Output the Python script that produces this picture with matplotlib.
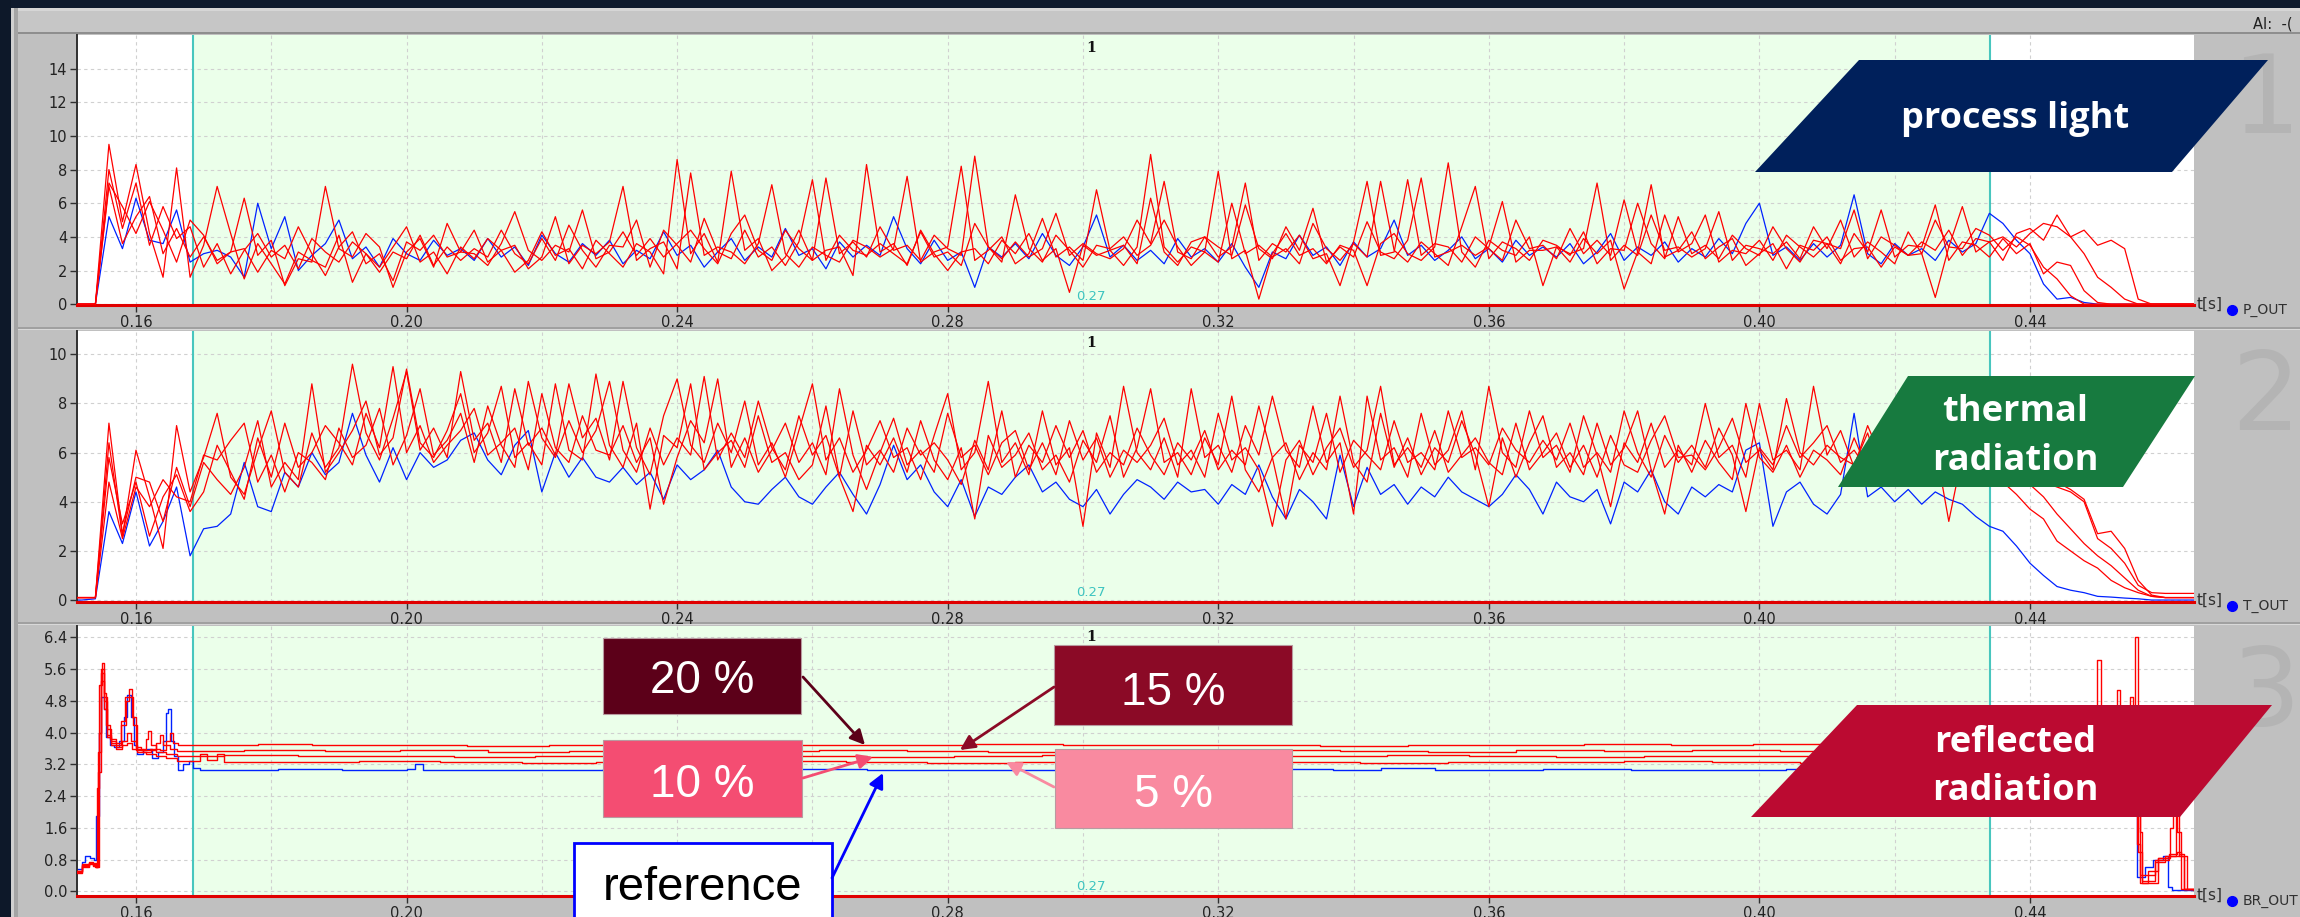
import numpy as np
import matplotlib.pyplot as plt
from matplotlib.patches import Polygon, Rectangle, FancyArrowPatch
from matplotlib.transforms import Affine2D

W, H = 2300, 917

# P_OUT and T_OUT traces, read every 2 ms starting at 0.150 s
T0 = 0.150
DT = 0.002

# ---- P_OUT (process light) ----
p_ref = [0, 0, 0, 5.2, 3.3, 6.3, 3.8, 3.6, 5.6, 2.5,
         3.0, 3.2, 2.8, 1.6, 6.0, 3.3, 5.2, 2.0, 2.9, 3.6,
         5.0, 2.7, 3.4, 2.2, 3.9, 3.0, 2.6, 3.8, 2.9, 3.3,
         2.6, 3.9, 2.8, 3.4, 2.3, 4.1, 3.0, 2.5, 3.6, 2.9,
         3.8, 2.4, 3.2, 2.7, 4.3, 2.9, 3.5, 2.2, 3.1, 3.9,
         2.6, 3.4, 2.8, 4.5, 2.9, 3.3, 2.1, 3.7, 2.8, 3.5,
         2.9, 5.2, 3.3, 2.4, 3.8, 2.6, 3.1, 1.0, 3.4, 2.8,
         3.6, 2.7, 4.2, 2.9, 2.3, 3.4, 5.3, 2.8, 3.5, 2.6,
         3.2, 2.4, 3.9, 2.8, 3.3, 2.5, 3.6, 2.2, 1.0, 3.1,
         2.7, 4.1, 2.9, 3.4, 2.3, 3.7, 2.8, 3.3, 5.0, 2.9,
         3.5, 2.6, 3.2, 4.0, 2.7, 3.3, 2.5, 3.8, 2.9, 3.4,
         2.8, 3.6, 2.4, 3.1, 4.2, 2.6, 3.4, 2.9, 3.7, 2.5,
         3.3, 2.8, 3.9, 3.0, 4.8, 6.0, 2.9, 3.4, 2.6, 3.6,
         2.8, 3.5, 6.5, 3.0, 2.4, 3.6, 2.9, 3.3, 2.6, 3.8,
         3.1, 3.6, 5.4, 4.8, 3.8, 3.0, 1.2, 0.3, 0.4, 0.1,
         0, 0, 0, 0, 0, 0, 0, 0, 0]
p_a = [0, 0, 0, 9.5, 4.9, 8.3, 4.2, 1.6, 8.1, 1.6,
       3.5, 7.0, 4.2, 1.5, 3.6, 2.4, 1.2, 3.1, 2.6, 2.2,
       4.1, 1.3, 3.0, 2.2, 3.4, 4.6, 2.5, 3.1, 1.8, 3.4,
       2.7, 3.9, 3.2, 1.9, 2.6, 4.3, 2.9, 3.3, 2.1, 3.8,
       3.0, 2.2, 3.6, 3.1, 1.8, 8.6, 3.0, 4.2, 2.5, 7.9,
       3.2, 3.9, 2.0, 2.8, 4.4, 2.6, 3.2, 3.4, 1.7, 8.3,
       3.1, 3.6, 2.3, 4.4, 3.0, 2.0, 3.1, 3.3, 2.4, 3.8,
       3.0, 4.2, 2.6, 3.3, 0.7, 3.5, 2.9, 3.2, 2.3, 3.4,
       8.9, 3.4, 2.5, 3.4, 3.1, 7.9, 2.7, 3.2, 0.3, 3.0,
       4.2, 2.9, 3.3, 2.4, 3.5, 3.2, 1.1, 3.6, 4.2, 3.0,
       2.6, 3.4, 8.4, 3.1, 2.2, 3.8, 3.2, 2.9, 4.0, 1.1,
       3.4, 2.5, 3.9, 3.0, 3.8, 0.9, 3.1, 7.1, 2.8, 3.2,
       4.3, 2.7, 3.4, 3.9, 2.3, 3.0, 3.6, 2.1, 3.5, 3.2,
       4.0, 2.6, 3.3, 3.4, 2.2, 3.4, 2.9, 3.0, 0.4, 3.4,
       5.8, 3.1, 3.7, 2.6, 4.2, 4.5, 3.8, 5.3, 4.0, 4.4,
       3.5, 3.8, 3.3, 0.3, 0, 0, 0, 0, 0]
p_b = [0, 0, 0, 7.0, 3.6, 5.2, 6.4, 3.0, 4.5, 2.8,
       4.0, 2.6, 3.1, 3.3, 1.9, 3.2, 2.7, 4.6, 3.0, 1.7,
       3.4, 4.3, 2.4, 3.0, 1.4, 3.7, 3.2, 4.1, 2.8, 3.1,
       4.4, 2.5, 3.2, 3.5, 2.1, 2.8, 5.2, 2.4, 3.5, 3.0,
       3.7, 7.0, 2.6, 3.3, 3.7, 2.1, 7.8, 2.9, 3.4, 3.1,
       2.4, 3.6, 7.1, 3.0, 2.2, 3.4, 2.9, 2.5, 3.8, 3.4,
       2.8, 3.3, 7.6, 2.5, 3.1, 3.4, 8.2, 2.6, 3.2, 4.0,
       2.4, 3.0, 5.1, 2.8, 3.4, 2.6, 6.8, 3.2, 3.5, 2.4,
       6.3, 3.1, 2.3, 3.7, 4.0, 2.8, 3.4, 7.2, 2.6, 3.6,
       3.1, 4.1, 2.7, 3.0, 1.1, 3.7, 7.3, 2.9, 3.1, 7.4,
       2.9, 3.6, 3.4, 2.5, 4.0, 3.3, 2.6, 5.0, 3.3, 3.5,
       2.7, 4.5, 3.0, 3.8, 2.9, 6.2, 3.1, 2.4, 5.3, 3.1,
       3.6, 5.3, 2.5, 3.2, 3.0, 3.8, 2.6, 4.1, 3.4, 2.8,
       3.6, 3.3, 5.6, 2.7, 4.0, 3.5, 2.9, 3.7, 3.2, 4.4,
       2.9, 3.9, 3.7, 4.0, 3.4, 4.2, 4.8, 4.6, 4.0, 3.0,
       1.6, 1.0, 0.3, 0, 0, 0, 0, 0, 0]
p_c = [0, 0, 0, 8.0, 4.5, 7.2, 3.5, 5.8, 3.9, 4.6,
       2.2, 3.6, 1.8, 3.2, 4.2, 2.8, 3.5, 2.1, 3.9, 3.1,
       2.5, 3.7, 3.0, 1.9, 3.1, 2.7, 4.1, 2.3, 3.4, 2.6,
       3.3, 2.8, 4.4, 3.0, 2.4, 3.9, 2.6, 4.7, 3.2, 2.2,
       3.5, 3.4, 5.0, 2.2, 4.4, 3.5, 2.5, 5.1, 3.1, 2.7,
       4.4, 2.8, 3.4, 2.3, 3.7, 7.4, 2.6, 4.1, 3.2, 2.9,
       3.6, 3.0, 2.4, 4.3, 2.8, 3.1, 2.3, 4.8, 3.4, 2.5,
       6.5, 3.3, 2.5, 4.1, 3.2, 2.2, 3.5, 3.3, 4.0, 2.9,
       3.5, 5.0, 3.4, 2.3, 3.1, 2.5, 6.0, 3.0, 3.5, 2.8,
       3.3, 2.4, 4.8, 3.3, 2.6, 3.6, 2.8, 7.3, 3.2, 2.5,
       3.7, 3.0, 2.3, 4.6, 7.0, 2.7, 3.7, 3.3, 2.6, 3.8,
       3.5, 2.9, 4.3, 2.4, 3.3, 3.2, 6.0, 3.6, 2.7, 5.2,
       3.0, 3.5, 2.7, 4.1, 3.3, 2.9, 4.6, 3.3, 2.5, 3.8,
       3.6, 2.4, 4.2, 3.1, 5.6, 2.8, 3.5, 3.4, 5.9, 2.6,
       3.7, 3.5, 2.8, 3.9, 3.0, 3.6, 1.8, 2.5, 2.3, 0.8,
       0.1, 0, 0, 0, 0, 0, 0, 0, 0]
p_d = [0, 0, 0, 7.2, 5.8, 4.2, 6.1, 4.4, 2.5, 5.0,
       4.1, 2.4, 3.1, 6.3, 2.9, 3.8, 1.1, 2.7, 2.5, 7.0,
       3.3, 2.8, 4.2, 3.4, 1.0, 3.1, 3.9, 2.2, 4.8, 3.1,
       3.0, 2.3, 3.6, 5.5, 3.2, 2.6, 3.5, 3.1, 5.6, 2.7,
       3.1, 4.3, 2.9, 3.9, 2.8, 3.6, 4.4, 3.3, 2.4, 4.2,
       5.3, 3.2, 2.6, 4.4, 3.3, 2.6, 7.5, 3.0, 3.7, 2.8,
       4.6, 3.2, 3.5, 2.6, 4.1, 3.3, 2.9, 8.8, 3.4, 2.7,
       3.7, 2.8, 3.3, 5.4, 2.9, 3.6, 3.0, 2.7, 3.3, 5.0,
       3.6, 7.3, 3.1, 2.7, 4.0, 3.4, 2.9, 5.9, 3.3, 2.7,
       4.6, 3.2, 5.7, 2.5, 3.4, 2.8, 4.9, 3.1, 2.7, 3.8,
       7.5, 2.8, 3.1, 3.5, 2.9, 3.4, 6.1, 2.5, 3.2, 3.2,
       3.4, 3.0, 3.3, 7.2, 2.6, 3.5, 2.9, 5.3, 3.2, 3.4,
       2.8, 3.3, 5.5, 2.6, 3.5, 3.3, 3.0, 3.7, 2.7, 4.6,
       3.3, 5.0, 2.8, 3.7, 3.1, 2.4, 4.3, 3.0, 5.0, 3.4,
       3.3, 4.5, 4.1, 3.2, 4.0, 3.5, 2.2, 1.5, 0.5, 0,
       0, 0, 0, 0, 0, 0, 0, 0, 0]

# ---- T_OUT (thermal radiation) ----
th_ref = [0, 0, 0.05, 3.6, 2.3, 4.4, 2.2, 3.2, 4.6, 1.8,
          2.9, 3.0, 3.5, 5.6, 3.8, 3.6, 5.2, 4.6, 6.0, 5.1,
          5.6, 7.6, 5.9, 4.8, 6.2, 4.9, 6.0, 5.4, 5.7, 6.5,
          6.8, 5.7, 5.1, 6.3, 6.9, 4.4, 6.0, 5.0, 5.8, 5.0,
          4.8, 5.4, 4.7, 5.2, 4.1, 5.5, 4.9, 5.3, 6.1, 4.6,
          4.0, 3.9, 4.5, 5.0, 4.2, 3.9, 4.6, 5.2, 4.3, 3.5,
          4.7, 6.3, 4.9, 5.5, 4.4, 3.8, 4.9, 3.4, 4.6, 4.3,
          5.0, 5.5, 4.4, 4.8, 4.1, 3.8, 4.5, 3.5, 4.3, 4.9,
          4.6, 4.1, 4.8, 4.4, 4.5, 3.9, 4.7, 4.3, 5.5, 4.2,
          3.3, 4.5, 4.0, 3.3, 5.9, 3.8, 5.4, 4.3, 4.7, 3.9,
          4.6, 4.2, 5.0, 4.4, 4.1, 3.8, 4.3, 5.1, 4.5, 3.5,
          4.8, 4.2, 4.0, 4.5, 3.1, 4.8, 4.4, 5.3, 4.0, 3.5,
          4.6, 4.2, 4.7, 4.4, 6.1, 6.4, 3.0, 4.4, 4.8, 3.9,
          3.5, 4.3, 7.6, 4.2, 4.6, 4.0, 4.5, 3.9, 4.4, 4.1,
          3.9, 3.4, 3.0, 2.8, 2.2, 1.5, 1.0, 0.55, 0.4, 0.3,
          0.15, 0.12, 0.08, 0.05, 0, 0, 0, 0, 0]
th_a = [0.1, 0.1, 0.1, 6.4, 2.6, 6.1, 4.2, 2.1, 7.1, 4.4,
        5.8, 7.6, 5.0, 4.3, 6.1, 7.7, 5.2, 4.6, 6.8, 5.4,
        6.2, 9.6, 6.8, 5.7, 7.4, 9.3, 6.1, 7.0, 5.8, 9.3,
        6.5, 7.2, 5.6, 8.6, 6.3, 7.0, 5.9, 8.8, 6.6, 7.4,
        5.7, 8.9, 6.2, 5.1, 7.5, 9.0, 6.3, 5.6, 7.2, 6.0,
        8.1, 5.5, 6.4, 5.0, 6.9, 8.8, 5.7, 6.6, 5.2, 6.1,
        7.3, 5.8, 6.2, 4.9, 6.7, 8.4, 5.3, 6.0, 8.9, 5.6,
        6.4, 5.1, 7.7, 5.5, 6.2, 3.0, 6.8, 5.4, 8.7, 6.0,
        5.3, 6.6, 5.0, 8.6, 5.8, 6.3, 5.2, 7.1, 5.9, 8.3,
        6.1, 5.4, 7.9, 5.6, 6.4, 3.5, 8.3, 5.7, 6.2, 5.0,
        7.6, 5.5, 6.1, 7.7, 5.3, 8.7, 6.0, 5.4, 7.7, 5.8,
        6.3, 5.2, 7.5, 5.9, 3.8, 6.4, 5.6, 7.2, 5.4, 6.1,
        5.5, 8.0, 5.8, 6.3, 5.0, 8.0, 5.7, 6.1, 5.3, 8.7,
        5.9, 6.9, 5.4, 7.1, 5.8, 6.3, 5.1, 6.7, 5.5, 5.9,
        5.2, 6.1, 5.6, 5.0, 5.7, 5.2, 4.8, 4.6, 4.4, 4.0,
        2.5, 2.1, 1.5, 0.6, 0.3, 0.27, 0.27, 0.27, 0.27]
th_b = [0.1, 0.1, 0.1, 7.2, 2.7, 5.0, 4.8, 3.2, 5.4, 3.8,
        5.6, 4.9, 4.3, 5.4, 7.3, 4.6, 5.6, 4.9, 8.8, 5.2,
        6.0, 6.9, 8.1, 5.9, 6.6, 9.4, 6.4, 5.8, 6.9, 8.4,
        6.0, 6.8, 8.7, 5.8, 6.4, 5.5, 8.8, 6.1, 5.7, 9.2,
        6.3, 5.4, 7.2, 3.7, 6.7, 6.2, 8.8, 5.3, 6.0, 6.5,
        5.4, 7.5, 5.6, 6.0, 4.9, 5.5, 7.9, 5.0, 3.6, 6.3,
        5.5, 6.6, 5.2, 7.3, 5.7, 4.9, 6.2, 3.3, 6.7, 5.4,
        5.9, 6.8, 5.3, 5.9, 4.8, 6.5, 5.6, 7.5, 5.0, 6.2,
        8.6, 5.6, 6.0, 5.1, 6.6, 5.5, 8.3, 5.3, 4.4, 5.8,
        6.4, 4.9, 6.0, 5.3, 8.3, 5.6, 4.8, 7.6, 5.4, 6.6,
        5.1, 6.2, 5.6, 7.3, 5.9, 3.8, 6.6, 5.0, 6.4, 7.5,
        5.4, 6.0, 5.1, 7.2, 5.5, 6.2, 7.7, 5.3, 3.5, 6.3,
        5.2, 6.5, 5.6, 4.9, 8.0, 5.8, 5.2, 6.3, 5.0, 6.1,
        5.7, 5.1, 6.6, 5.3, 6.0, 4.8, 5.9, 5.2, 6.2, 5.4,
        5.6, 5.1, 5.5, 4.8, 4.3, 3.7, 3.3, 2.4, 2.0, 1.6,
        1.3, 0.8, 0.5, 0.3, 0.15, 0.1, 0.1, 0.1, 0.1]
th_c = [0.1, 0.1, 0.1, 4.8, 2.5, 4.6, 3.8, 4.9, 4.2, 4.0,
        5.9, 5.7, 6.5, 7.2, 4.8, 5.9, 4.4, 6.0, 5.6, 4.9,
        7.0, 5.8, 6.3, 7.8, 5.5, 6.7, 8.6, 5.9, 6.5, 7.6,
        5.6, 7.9, 6.3, 5.4, 8.9, 6.6, 5.8, 7.3, 6.0, 6.9,
        8.9, 6.1, 5.2, 7.0, 5.5, 6.6, 5.9, 9.1, 5.7, 6.8,
        5.8, 8.1, 6.2, 5.3, 7.5, 5.9, 6.7, 5.0, 7.7, 5.5,
        6.1, 5.2, 7.0, 5.9, 6.4, 5.7, 4.7, 6.5, 5.3, 7.7,
        5.0, 6.3, 5.6, 7.1, 5.8, 6.9, 5.2, 6.0, 5.5, 7.0,
        5.9, 5.1, 6.4, 5.7, 6.9, 5.3, 6.1, 5.5, 7.9, 5.8,
        3.3, 6.3, 5.6, 7.6, 5.2, 6.5, 5.9, 5.3, 7.3, 5.6,
        6.0, 5.3, 7.7, 5.8, 6.2, 5.5, 7.0, 6.1, 5.6, 6.5,
        5.7, 7.2, 5.4, 6.0, 5.2, 7.7, 6.0, 5.0, 6.7, 5.6,
        6.3, 5.4, 7.0, 5.9, 3.6, 6.2, 5.5, 7.1, 5.8, 6.4,
        7.1, 5.6, 6.1, 5.3, 6.4, 5.7, 5.0, 6.2, 5.4, 5.8,
        5.3, 5.8, 5.2, 5.6, 5.0, 4.7, 4.2, 3.5, 2.9, 2.3,
        1.8, 1.4, 0.9, 0.4, 0.15, 0.1, 0.1, 0.1, 0.1]
th_d = [0.1, 0.1, 0.1, 5.8, 3.1, 4.8, 2.6, 4.2, 5.1, 3.6,
        4.4, 6.3, 5.2, 4.1, 6.6, 5.0, 7.2, 5.4, 6.0, 7.1,
        6.4, 5.5, 7.6, 6.2, 9.5, 6.0, 7.1, 5.6, 6.3, 6.9,
        7.8, 5.9, 6.4, 7.0, 5.3, 8.4, 6.2, 5.6, 7.5, 6.1,
        5.9, 7.1, 5.6, 6.6, 3.9, 5.8, 7.3, 6.4, 9.0, 5.4,
        6.6, 5.2, 6.1, 7.2, 5.6, 6.4, 5.1, 8.6, 5.9, 4.5,
        6.0, 7.4, 5.5, 6.1, 5.2, 7.6, 5.8, 6.3, 5.1, 6.4,
        6.9, 5.3, 6.4, 5.1, 7.3, 5.7, 6.6, 5.0, 6.1, 5.6,
        6.3, 7.4, 5.5, 6.1, 5.0, 7.6, 5.7, 6.2, 5.3, 3.0,
        5.7, 6.5, 5.1, 6.2, 7.0, 5.4, 6.1, 8.7, 5.5, 6.2,
        5.4, 6.9, 5.2, 5.9, 6.6, 5.6, 5.1, 7.2, 5.3, 6.0,
        6.8, 5.4, 6.3, 5.0, 6.7, 5.5, 5.2, 6.5, 7.5, 5.8,
        5.9, 5.3, 6.2, 7.4, 5.6, 6.1, 5.3, 8.2, 6.0, 5.5,
        6.3, 5.8, 5.5, 6.8, 5.1, 6.0, 5.6, 5.2, 6.3, 3.2,
        5.9, 5.4, 6.0, 5.5, 5.8, 5.1, 5.4, 4.8, 4.5, 4.1,
        2.7, 2.8, 2.1, 0.8, 0.2, 0.1, 0.1, 0.1, 0.1]

# ---- BR_OUT (reflected radiation), (t, value) pairs ----
br_ref = [(0.1513, 0.56), (0.1520, 0.75), (0.1525, 0.88), (0.1532, 0.85), (0.1538, 0.78),
          (0.1541, 1.9), (0.1545, 4.0), (0.1548, 4.9), (0.1552, 4.6), (0.1556, 3.9),
          (0.1562, 3.7), (0.1568, 3.65), (0.1575, 3.8), (0.1582, 4.4), (0.1587, 4.95),
          (0.1592, 4.4), (0.1597, 3.7), (0.1602, 3.45), (0.1610, 3.55), (0.1617, 3.6),
          (0.1624, 3.35), (0.1632, 3.5), (0.1640, 3.8), (0.1645, 4.5), (0.1648, 4.6),
          (0.1652, 3.8), (0.1656, 3.4), (0.1662, 3.05), (0.1670, 3.2), (0.1678, 3.28),
          (0.1685, 3.1), (0.1695, 3.07), (0.181, 3.09), (0.1905, 3.06), (0.2000, 3.08),
          (0.2012, 3.2), (0.2025, 3.07), (0.214, 3.05), (0.229, 3.08), (0.243, 3.06),
          (0.258, 3.09), (0.268, 3.07), (0.284, 3.05), (0.296, 3.08), (0.311, 3.06),
          (0.324, 3.09), (0.337, 3.07), (0.344, 3.10), (0.352, 3.06), (0.368, 3.08),
          (0.381, 3.05), (0.393, 3.07), (0.404, 3.09), (0.419, 3.06), (0.431, 3.07),
          (0.4548, 3.0), (0.4558, 0.35), (0.4570, 0.6), (0.4582, 0.8), (0.4597, 0.88),
          (0.4604, 0.1), (0.4610, 0.03), (0.4642, 0.03)]
br_20 = [(0.1513, 0.45), (0.1520, 0.62), (0.1530, 0.70), (0.1536, 0.66), (0.1540, 0.6),
         (0.1543, 2.6), (0.1546, 5.2), (0.1550, 5.75), (0.1553, 4.9), (0.1557, 4.1),
         (0.1563, 3.8), (0.1570, 3.75), (0.1578, 4.3), (0.1584, 4.9), (0.1589, 5.1),
         (0.1594, 4.4), (0.1600, 3.65), (0.1608, 3.55), (0.1620, 3.6), (0.1635, 3.55),
         (0.1645, 3.8), (0.1650, 4.0), (0.1655, 3.75), (0.1662, 3.69), (0.178, 3.71),
         (0.186, 3.68), (0.197, 3.70), (0.209, 3.67), (0.221, 3.69), (0.233, 3.71),
         (0.246, 3.68), (0.258, 3.70), (0.271, 3.69), (0.284, 3.71), (0.297, 3.68),
         (0.309, 3.70), (0.322, 3.69), (0.335, 3.67), (0.348, 3.70), (0.361, 3.68),
         (0.374, 3.71), (0.387, 3.69), (0.399, 3.72), (0.412, 3.69), (0.425, 3.70),
         (0.438, 3.68), (0.4495, 4.6), (0.4499, 5.83), (0.4505, 4.3), (0.4540, 3.8),
         (0.4558, 1.2), (0.4563, 0.2), (0.4575, 0.5), (0.4590, 0.85), (0.4605, 0.95),
         (0.4618, 1.0), (0.4624, 0.05), (0.4642, 0.02)]
br_15 = [(0.1513, 0.5), (0.1520, 0.66), (0.1530, 0.72), (0.1537, 0.68), (0.1541, 0.62),
         (0.1544, 3.5), (0.1548, 5.5), (0.1552, 5.0), (0.1556, 4.2), (0.1562, 3.85),
         (0.1570, 3.7), (0.1578, 4.2), (0.1585, 4.8), (0.1589, 4.9), (0.1595, 4.2),
         (0.1601, 3.6), (0.1610, 3.5), (0.1622, 3.55), (0.1630, 3.75), (0.1635, 3.95),
         (0.1640, 3.7), (0.1650, 3.58), (0.1660, 3.54), (0.176, 3.56), (0.188, 3.53),
         (0.199, 3.55), (0.212, 3.52), (0.224, 3.54), (0.236, 3.56), (0.249, 3.53),
         (0.261, 3.55), (0.274, 3.54), (0.286, 3.52), (0.299, 3.55), (0.313, 3.53),
         (0.326, 3.56), (0.338, 3.54), (0.351, 3.52), (0.364, 3.55), (0.377, 3.53),
         (0.390, 3.56), (0.403, 3.54), (0.416, 3.52), (0.429, 3.55), (0.441, 3.53),
         (0.4525, 4.2), (0.4529, 5.08), (0.4533, 4.0), (0.4552, 3.6), (0.4560, 1.0),
         (0.4565, 0.25), (0.4585, 0.8), (0.4605, 0.9), (0.4621, 0.95), (0.4628, 0.05),
         (0.4642, 0.02)]
br_10 = [(0.1513, 0.48), (0.1520, 0.64), (0.1530, 0.69), (0.1537, 0.64), (0.1541, 0.6),
         (0.1545, 4.0), (0.1549, 5.3), (0.1553, 4.6), (0.1557, 3.95), (0.1563, 3.75),
         (0.1570, 3.65), (0.1580, 3.8), (0.1587, 4.0), (0.1593, 3.8), (0.1600, 3.55),
         (0.1610, 3.6), (0.1615, 3.85), (0.1618, 4.05), (0.1622, 3.7), (0.1630, 3.5),
         (0.1645, 3.45), (0.1660, 3.41), (0.173, 3.43), (0.184, 3.40), (0.196, 3.42),
         (0.207, 3.39), (0.219, 3.41), (0.231, 3.43), (0.243, 3.40), (0.256, 3.42),
         (0.268, 3.39), (0.281, 3.41), (0.294, 3.43), (0.306, 3.40), (0.319, 3.42),
         (0.332, 3.40), (0.345, 3.43), (0.357, 3.41), (0.370, 3.39), (0.383, 3.42),
         (0.396, 3.40), (0.409, 3.43), (0.421, 3.41), (0.434, 3.40), (0.4548, 4.9),
         (0.4552, 3.8), (0.4555, 6.4), (0.4559, 4.0), (0.4562, 1.5), (0.4566, 0.2),
         (0.4590, 0.85), (0.4607, 1.6), (0.4611, 2.4), (0.4617, 1.5), (0.4624, 0.9),
         (0.4632, 0.05), (0.4642, 0.02)]
br_05 = [(0.1513, 0.52), (0.1520, 0.68), (0.1530, 0.74), (0.1537, 0.7), (0.1541, 0.64),
         (0.1544, 3.0), (0.1548, 5.6), (0.1552, 4.8), (0.1557, 3.9), (0.1563, 3.7),
         (0.1570, 3.6), (0.1580, 3.7), (0.1587, 3.75), (0.1594, 3.6), (0.1602, 3.5),
         (0.1615, 3.45), (0.1630, 3.4), (0.1645, 3.35), (0.1660, 3.28), (0.1695, 3.45),
         (0.1705, 3.3), (0.1720, 3.45), (0.1730, 3.27), (0.182, 3.25), (0.193, 3.28),
         (0.205, 3.26), (0.217, 3.24), (0.228, 3.27), (0.240, 3.25), (0.253, 3.28),
         (0.265, 3.26), (0.277, 3.24), (0.290, 3.27), (0.303, 3.25), (0.316, 3.28),
         (0.328, 3.26), (0.341, 3.24), (0.354, 3.27), (0.367, 3.25), (0.380, 3.28),
         (0.393, 3.26), (0.406, 3.24), (0.418, 3.27), (0.431, 3.25), (0.4550, 2.0),
         (0.4562, 0.4), (0.4585, 0.75), (0.4600, 0.9), (0.4616, 2.0), (0.4621, 0.9),
         (0.4628, 0.05), (0.4642, 0.02)]

cursor_l, cursor_r = 0.1684, 0.4341
x_ticks = [0.16, 0.20, 0.24, 0.28, 0.32, 0.36, 0.40, 0.44]

RED = '#ff0000'
BLUE = '#0022ff'

fig = plt.figure(figsize=(23, 9.17), dpi=100, facecolor='#c0c0c0')
pix = Affine2D().scale(1 / W, -1 / H).translate(0, 1) + fig.transFigure


def rect(x0, y0, x1, y1, color, z=-5):
    fig.add_artist(Rectangle((x0, y1), x1 - x0, y0 - y1, transform=pix,
                             facecolor=color, edgecolor='none', zorder=z))


# window frame
rect(0, 0, W, 8, '#0f1a2d')
rect(0, 0, 11, H, '#0d1829')
rect(11, 8, W, 11, '#d6d6d6')
rect(11, 11, W, 32, '#c6c6c6')
rect(11, 32, W, 34, '#8e8e8e')
rect(11, 8, 14, H, '#d0d0d0')
rect(14, 8, 18, H, '#a4a4a4')
rect(18, 327, W, 329, '#a0a0a0')
rect(18, 329, W, 330, '#d8d8d8')
rect(18, 622, W, 624, '#a0a0a0')
rect(18, 624, W, 625, '#d8d8d8')
fig.text(2253 / W, 1 - 24 / H, 'AI:  -(', fontsize=10.5, color='#202020', va='center')

panels = [
    (35, 305, (-0.05, 16.0), np.arange(0, 15, 2), '%d'),
    (331, 602, (-0.08, 10.95), np.arange(0, 11, 2), '%d'),
    (626, 896, (-0.12, 6.69), np.arange(0, 6.5, 0.8), '%.1f'),
]
axes = []
for top, bot, ylim, yt, fmt in panels:
    ax = fig.add_axes([77 / W, 1 - bot / H, (2194 - 77) / W, (bot - top) / H])
    ax.set_xlim(0.15128, 0.46425)
    ax.set_ylim(*ylim)
    ax.axvspan(cursor_l, cursor_r, color='#ebffea', lw=0, zorder=0.2)
    for c in (cursor_l, cursor_r):
        ax.axvline(c, color='#48c6be', lw=1.5, zorder=1.5)
    ax.set_xticks(x_ticks)
    ax.set_xticklabels(['%.2f' % v for v in x_ticks])
    ax.set_xticks(np.arange(0.16, 0.4401, 0.02), minor=True)
    ax.set_yticks(yt)
    ax.set_yticklabels([fmt % v for v in yt])
    ax.set_axisbelow(True)
    ax.grid(axis='x', which='both', color='#d0d0d0', ls=(0, (3, 3)), lw=0.8)
    ax.grid(axis='y', which='major', color='#d0d0d0', ls=(0, (3, 3)), lw=0.8)
    ax.tick_params(which='major', direction='out', length=5, width=1,
                   color='#303030', labelcolor='#222222', labelsize=10.5, pad=2)
    ax.tick_params(which='minor', length=0)
    ax.spines['top'].set_visible(False)
    ax.spines['right'].set_visible(False)
    ax.spines['left'].set_color('#303030')
    ax.spines['left'].set_linewidth(1.4)
    ax.spines['bottom'].set_color('#e00000')
    ax.spines['bottom'].set_linewidth(2.2)
    axes.append(ax)

ax1, ax2, ax3 = axes

ax1.plot(T0 + DT * np.arange(len(p_ref)), p_ref, color=BLUE, lw=0.9, zorder=2)
for s in (p_a, p_b, p_c, p_d):
    ax1.plot(T0 + DT * np.arange(len(s)), s, color=RED, lw=0.9, zorder=3)

ax2.plot(T0 + DT * np.arange(len(th_ref)), th_ref, color=BLUE, lw=0.9, zorder=2)
for s in (th_a, th_b, th_c, th_d):
    ax2.plot(T0 + DT * np.arange(len(s)), s, color=RED, lw=0.9, zorder=3)

tt, vv = zip(*br_ref)
ax3.plot(tt, vv, color=BLUE, lw=1.0, drawstyle='steps-post', zorder=2)
for s in (br_05, br_10, br_15, br_20):
    tt, vv = zip(*s)
    ax3.plot(tt, vv, color=RED, lw=1.0, drawstyle='steps-post', zorder=3)

# cursor labels and panel markers
for ytitle, ycur in ((48, 296), (343, 592), (637, 887)):
    fig.text(1091 / W, 1 - ytitle / H, '1', family='DejaVu Serif', weight='bold',
             fontsize=10, color='#111111', ha='center', va='center')
    fig.text(1091 / W, 1 - ycur / H, '0.27', fontsize=9.5, color='#3cc4c0',
             ha='center', va='center')

for name, num, yb, ynum in (('P_OUT', '1', 308, 103), ('T_OUT', '2', 604, 400),
                            ('BR_OUT', '3', 899, 695)):
    fig.text(2197 / W, 1 - (yb - 4) / H, 't[s]', fontsize=11, color='#303030',
             ha='left', va='center')
    fig.add_artist(plt.Line2D([2232 / W], [1 - (yb + 2) / H], marker='o',
                              markersize=7, color='#0000ff', transform=fig.transFigure))
    fig.text(2243 / W, 1 - (yb + 2) / H, name, fontsize=10, color='#303030',
             ha='left', va='center')
    fig.text(2266 / W, 1 - ynum / H, num, fontsize=78, color='#b4b4b4',
             ha='center', va='center', zorder=-1)

# signal group banners
banners = [
    ([(1859, 60), (2268, 60), (2172, 172), (1755, 172)], '#00205b',
     [('process light', 128)]),
    ([(1908, 376), (2195, 376), (2123, 487), (1838, 487)], '#177a3f',
     [('thermal', 421), ('radiation', 470)]),
    ([(1857, 705), (2272, 705), (2180, 817), (1751, 817)], '#bb0a31',
     [('reflected', 752), ('radiation', 800)]),
]
for pts, col, lines in banners:
    fig.add_artist(Polygon(pts, closed=True, transform=pix, facecolor=col,
                           edgecolor='none', zorder=5))
    for txt, yb in lines:
        fig.text(2015 / W, 1 - yb / H, txt, family=['Open Sans', 'DejaVu Sans'],
                 weight='bold', fontsize=26, color='white', ha='center',
                 va='baseline', zorder=6)

# offset annotations
boxes = [
    ((603, 638, 801, 714), '#5c0019', '20 %', 693, (803, 677), (865, 745)),
    ((1054, 645, 1292, 725), '#8b0a26', '15 %', 705, (1054, 687), (960, 750)),
    ((603, 740, 802, 817), '#f44d72', '10 %', 797, (803, 778), (873, 757)),
    ((1055, 749, 1292, 828), '#f98aa0', '5 %', 807, (1054, 787), (1006, 762)),
]
for (x0, y0, x1, y1), col, txt, yb, a0, a1 in boxes:
    fig.add_artist(Rectangle((x0, y1), x1 - x0, y0 - y1, transform=pix,
                             facecolor=col, edgecolor='#b89aa0', lw=0.8, zorder=5))
    fig.text((x0 + x1) / 2 / W, 1 - yb / H, txt, family=['Liberation Sans', 'DejaVu Sans'],
             fontsize=33, color='white', ha='center', va='baseline', zorder=6)
    fig.add_artist(FancyArrowPatch(a0, a1, transform=pix, arrowstyle='-|>',
                                   mutation_scale=22, color=col, lw=2, zorder=6,
                                   shrinkA=0, shrinkB=0))

fig.add_artist(Rectangle((574, 930), 258, -87, transform=pix, facecolor='white',
                         edgecolor='#0000ff', lw=2, zorder=5))
fig.text(703 / W, 1 - 900 / H, 'reference', family=['Liberation Sans', 'DejaVu Sans'],
         fontsize=34, color='black', ha='center', va='baseline', zorder=6)
fig.add_artist(FancyArrowPatch((832, 878), (883, 773), transform=pix, arrowstyle='-|>',
                               mutation_scale=22, color='#0000ff', lw=2, zorder=6,
                               shrinkA=0, shrinkB=0))

fig.savefig('out.png', dpi=100, facecolor=fig.get_facecolor())
